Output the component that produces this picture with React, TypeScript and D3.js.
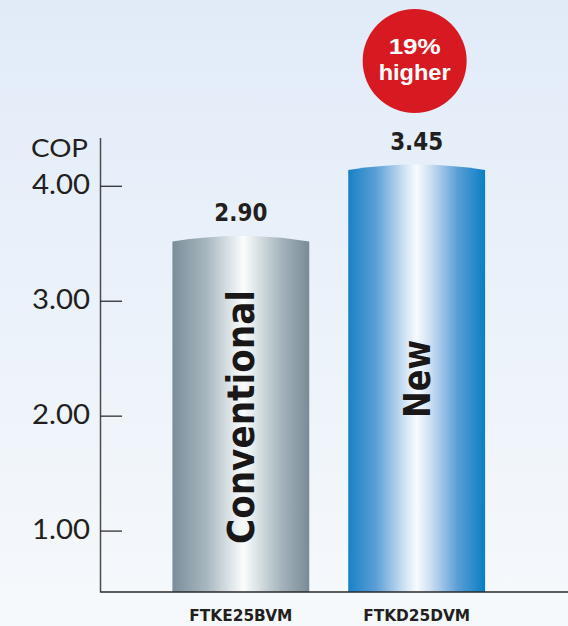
import * as d3 from "d3";

const categories = ["FTKE25BVM", "FTKD25DVM"];
const barNames = ["Conventional", "New"];
const copValues = [2.9, 3.45];
const yTicks = [1, 2, 3, 4];

const W = 568;
const H = 626;
const AXIS_X = 100.5;
const BASE_Y = 592;

const GRADIENTS = [
  [
    [0, "#7a8e9a"],
    [0.25, "#a8b7bf"],
    [0.44, "#e2e9ec"],
    [0.52, "#fbfcfc"],
    [0.62, "#dbe3e6"],
    [0.8, "#a4b3bb"],
    [1, "#798b96"],
  ],
  [
    [0, "#1981c6"],
    [0.2, "#5a9ed6"],
    [0.42, "#d4e5f5"],
    [0.5, "#f8fbfe"],
    [0.6, "#cddff2"],
    [0.8, "#5a9ed6"],
    [1, "#097ec5"],
  ],
];

export default function App() {
  // axis scale (tick labels) and bar scale are separate in the original graphic
  const y = d3.scaleLinear().domain([0.47, 4.42]).range([BASE_Y, 138]);
  const barY = d3.scaleLinear().domain([0.2, 3.45]).range([BASE_Y, 170]);
  const x = d3
    .scaleBand<string>()
    .domain(categories)
    .range([AXIS_X, 557])
    .paddingInner(0.2216)
    .paddingOuter(0.409);
  const bw = x.bandwidth();
  const fmt = d3.format(".2f");
  const pct = Math.round((copValues[1] / copValues[0] - 1) * 100);

  const barPath = (c: string, v: number) => {
    const x0 = x(c)!;
    const x1 = x0 + bw;
    const top = barY(v);
    return `M${x0},${BASE_Y}L${x0},${top}Q${(x0 + x1) / 2},${top - 11} ${x1},${top}L${x1},${BASE_Y}Z`;
  };

  const newX = x(categories[1])! + bw / 2 - 2;
  const badgeY = 61;

  return (
    <svg
      width={W}
      height={H}
      style={{ position: "absolute", left: 0, top: 0, display: "block" }}
    >
      <defs>
        <linearGradient id="bg" x1="0" y1="0" x2="0" y2="1">
          <stop offset="0" stopColor="#e1ebf8" />
          <stop offset="1" stopColor="#f6f9fc" />
        </linearGradient>
        {GRADIENTS.map((g, i) => (
          <linearGradient key={i} id={`bar${i}`} x1="0" y1="0" x2="1" y2="0">
            {g.map(([o, c], j) => (
              <stop key={j} offset={o as number} stopColor={c as string} />
            ))}
          </linearGradient>
        ))}
      </defs>
      <rect x={0} y={0} width={W} height={H} fill="url(#bg)" />

      {/* bars */}
      {categories.map((c, i) => (
        <g key={c}>
          <path d={barPath(c, copValues[i])} fill={`url(#bar${i})`} />
          <text
            x={x(c)! + bw / 2}
            y={barY(copValues[i]) - 20}
            textAnchor="middle"
            fontFamily="DejaVu Sans"
            fontWeight="bold"
            fontSize={24}
            fill="#231f20"
            textLength={53}
            lengthAdjust="spacingAndGlyphs"
          >
            {fmt(copValues[i])}
          </text>
          <text
            transform={`translate(${x(c)! + bw / 2 + 13},${i === 0 ? 417 : 379}) rotate(-90)`}
            textAnchor="middle"
            fontFamily="DejaVu Sans"
            fontWeight="bold"
            fontSize={37}
            fill="#1a1718"
            textLength={i === 0 ? 254 : 78}
            lengthAdjust="spacingAndGlyphs"
          >
            {barNames[i]}
          </text>
          <text
            x={x(c)! + bw / 2}
            y={621}
            textAnchor="middle"
            fontFamily="DejaVu Sans"
            fontWeight="bold"
            fontSize={16}
            fill="#231f20"
            textLength={i === 0 ? 103 : 107}
            lengthAdjust="spacingAndGlyphs"
          >
            {c}
          </text>
        </g>
      ))}

      {/* axes */}
      <line x1={AXIS_X} x2={AXIS_X} y1={y(4.42)} y2={BASE_Y + 0.5} stroke="#4d4b4c" strokeWidth={1.5} />
      <line x1={AXIS_X} x2={W} y1={BASE_Y} y2={BASE_Y} stroke="#2b2a2a" strokeWidth={1.5} />
      {yTicks.map((t) => (
        <g key={t}>
          <line x1={AXIS_X} x2={122} y1={y(t)} y2={y(t)} stroke="#231f20" strokeWidth={1.2} />
          <text
            x={90}
            y={y(t) + 8}
            textAnchor="end"
            fontFamily="Lato"
            fontSize={27}
            fill="#231f20"
            textLength={58}
            lengthAdjust="spacingAndGlyphs"
          >
            {fmt(t)}
          </text>
        </g>
      ))}
      <text
        x={88}
        y={157}
        textAnchor="end"
        fontFamily="Lato"
        fontSize={25}
        fill="#231f20"
        textLength={57}
        lengthAdjust="spacingAndGlyphs"
      >
        COP
      </text>

      {/* badge */}
      <circle cx={newX} cy={badgeY} r={52} fill="#d71a21" />
      <text
        x={newX}
        y={badgeY - 7}
        textAnchor="middle"
        fontFamily="Liberation Sans"
        fontWeight="bold"
        fontSize={22}
        fill="#fff"
        textLength={52}
        lengthAdjust="spacingAndGlyphs"
      >
        {`${pct}%`}
      </text>
      <text
        x={newX}
        y={badgeY + 19}
        textAnchor="middle"
        fontFamily="Liberation Sans"
        fontWeight="bold"
        fontSize={22}
        fill="#fff"
        textLength={72}
        lengthAdjust="spacingAndGlyphs"
      >
        higher
      </text>
    </svg>
  );
}
